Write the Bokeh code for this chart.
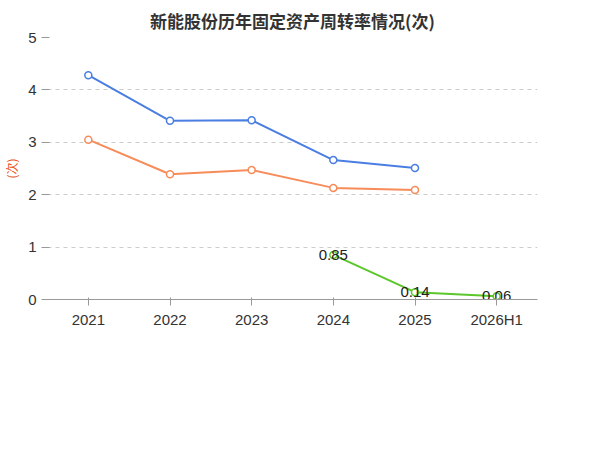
from bokeh.plotting import figure
from bokeh.models import Legend, LegendItem, Label, Range1d, FactorRange
from bokeh.embed import file_html
from bokeh.resources import INLINE

years = ["2021", "2022", "2023", "2024", "2025", "2026H1"]
company_years = ["2024", "2025", "2026H1"]
company = [0.85, 0.14, 0.06]
avg_years = ["2021", "2022", "2023", "2024", "2025"]
industry_avg = [4.28, 3.41, 3.42, 2.66, 2.51]
industry_median = [3.05, 2.39, 2.47, 2.13, 2.09]

FONT = "Noto Sans CJK SC"
p = figure(frame_width=490, frame_height=262, x_range=FactorRange(*years), y_range=Range1d(0, 5),
           output_backend="svg", toolbar_location=None,
           min_border_left=30, min_border_right=9, min_border_top=20, min_border_bottom=20)
p.title.text = "新能股份历年固定资产周转率情况(次)"
p.title.align = "center"
p.title.text_font = FONT
p.title.text_font_size = "17px"
p.title.text_color = "#333333"
p.title.offset = 0

green, blue, orange = "#5cc72b", "#4a7ee3", "#f78c5a"
r1 = p.line(company_years, company, color=green, line_width=2)
s1 = p.scatter(company_years, company, size=7, fill_color="white", line_color=green, line_width=1.5)
r2 = p.line(avg_years, industry_avg, color=blue, line_width=2)
s2 = p.scatter(avg_years, industry_avg, size=7, fill_color="white", line_color=blue, line_width=1.5)
r3 = p.line(avg_years, industry_median, color=orange, line_width=2)
s3 = p.scatter(avg_years, industry_median, size=7, fill_color="white", line_color=orange, line_width=1.5)
p.text(company_years, company, text=[f"{v:.2f}" for v in company], text_align="center",
       text_baseline="middle", text_font_size="15px", text_color="#222222")

p.xgrid.visible = False
p.ygrid.grid_line_dash = "4 4"
p.ygrid.grid_line_color = "#cccccc"
p.yaxis.ticker = [0, 1, 2, 3, 4, 5]
p.yaxis.axis_label = "(次)"
p.yaxis.axis_label_text_color = "#e8541e"
p.yaxis.axis_label_text_font = FONT
p.yaxis.axis_label_text_font_style = "normal"
p.yaxis.axis_label_text_font_size = "12px"
for ax in (p.xaxis, p.yaxis):
    ax.major_label_text_font_size = "15px"
    ax.major_label_text_color = "#333333"
    ax.axis_line_color = "#999999"
    ax.major_tick_line_color = "#999999"
    ax.minor_tick_line_color = None
p.yaxis.axis_line_color = None
p.outline_line_color = None

legend = Legend(items=[LegendItem(label="公司固定资产周转率", renderers=[r1, s1]),
                       LegendItem(label="行业均值", renderers=[r2, s2]),
                       LegendItem(label="行业中位数", renderers=[r3, s3])],
                orientation="horizontal", location=(-40, -90), border_line_color=None,
                background_fill_alpha=0,
                label_text_font=FONT, label_text_font_size="15px", label_text_color="#333333",
                glyph_width=40, spacing=25, margin=0)
p.add_layout(legend)
p.add_layout(Label(x=245, y=-118, x_units="screen", y_units="screen", text="制图数据来自恒生聚源数据库",
                   text_align="center", text_color="#c8a03c", text_font=FONT, text_font_size="12px"))
p.min_border_bottom = 112

open("out.html", "w").write(file_html(p, INLINE))
